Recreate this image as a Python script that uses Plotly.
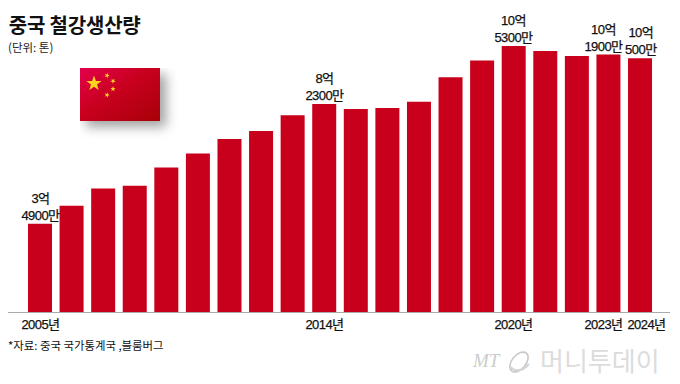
import plotly.graph_objects as go
import base64
import math

years = list(range(2005, 2025))
# steel output, 100 million tonnes
values = [3.49, 4.21, 4.89, 5.00, 5.72, 6.27, 6.85, 7.17, 7.79, 8.23,
          8.04, 8.08, 8.32, 9.29, 9.96, 10.53, 10.33, 10.13, 10.19, 10.05]
label_years = [2005, 2014, 2020, 2023, 2024]
label_top = ["3억", "8억", "10억", "10억", "10억"]
label_bottom = ["4900만", "2300만", "5300만", "1900만", "500만"]
label_shift = [0, 0, 0, -5, 1]
tick_years = [2005, 2014, 2020, 2023, 2024]
tick_text = ["2005년", "2014년", "2020년", "2023년", "2024년"]
tick_shift = [0, 0, 0, -5, 6]

RED = "#c9001c"
KR = "Noto Sans CJK KR, Noto Sans, sans-serif"
NARROW = "Liberation Sans, Noto Sans CJK KR, sans-serif"


def star(cx, cy, r, rot=0):
    pts = []
    for i in range(10):
        rr = r if i % 2 == 0 else r * 0.4
        a = math.radians(-90 + rot + i * 36)
        pts.append(f"{cx + rr * math.cos(a):.2f},{cy + rr * math.sin(a):.2f}")
    return f'<polygon points="{" ".join(pts)}" fill="#ffd21e"/>'


svg = f'''<svg xmlns="http://www.w3.org/2000/svg" width="120" height="90" viewBox="0 0 120 90">
<defs>
<linearGradient id="g" x1="0" y1="0" x2="1" y2="1">
<stop offset="0" stop-color="#e4004c"/><stop offset="0.45" stop-color="#c8001e"/><stop offset="1" stop-color="#a80008"/>
</linearGradient>
<filter id="b" x="-40%" y="-40%" width="180%" height="180%"><feGaussianBlur stdDeviation="6"/></filter>
</defs>
<rect x="6" y="6" width="80" height="53" fill="#555" opacity="0.55" filter="url(#b)"/>
<rect x="0" y="0" width="80" height="53" fill="url(#g)"/>
{star(14, 15.5, 8)}{star(27, 7.5, 2.8, 20)}{star(33, 13, 2.8, 40)}{star(33, 21, 2.8, 0)}{star(27, 27, 2.8, 20)}
</svg>'''
flag_uri = "data:image/svg+xml;base64," + base64.b64encode(svg.encode()).decode()

logo = '''<svg xmlns="http://www.w3.org/2000/svg" width="26" height="26" viewBox="0 0 26 26">
<ellipse cx="13" cy="13" rx="11.5" ry="7" transform="rotate(-50 13 13)" fill="none" stroke="#c8c8c8" stroke-width="1.6"/>
<path d="M4 18 Q13 26 23 15" fill="none" stroke="#d4d4d4" stroke-width="2.2"/>
</svg>'''
logo_uri = "data:image/svg+xml;base64," + base64.b64encode(logo.encode()).decode()

fig = go.Figure(go.Bar(x=years, y=values, width=0.76, marker=dict(color=RED, line=dict(width=0)),
                       hoverinfo="skip"))

for yr, top, bottom, sh in zip(label_years, label_top, label_bottom, label_shift):
    v = values[years.index(yr)]
    fig.add_annotation(x=yr, y=v, xref="x", yref="y", yanchor="bottom", xanchor="center",
                       text=f"{top}<br>{bottom}", showarrow=False, xshift=sh, yshift=-1,
                       font=dict(family=NARROW, size=13, color="#111"), align="center")

for yr, t, sh in zip(tick_years, tick_text, tick_shift):
    fig.add_annotation(x=yr, y=0, xref="x", yref="y", yanchor="top", xanchor="center", text=t,
                       showarrow=False, xshift=sh, yshift=-3,
                       font=dict(family=NARROW, size=13, color="#111"))

paper_text = [
    ("중국 철강생산량", 6, 24, 20, "#111", KR, True),
    ("(단위: 톤)", 6, 47, 11.5, "#222", KR, False),
    ("*자료: 중국 국가통계국 ,블룸버그", 6, 345, 11.4, "#111", KR, False),
    ("MT", 470, 360, 19, "#cccccc", "Liberation Serif", False),
    ("머니투데이", 538, 359, 26, "#dcdcdc", KR, False),
]
for t, px, py, size, col, fam, bold in paper_text:
    fig.add_annotation(x=px / 680, y=1 - py / 384, xref="paper", yref="paper", xanchor="left",
                       yanchor="middle", showarrow=False,
                       text=f"<b>{t}</b>" if bold else (f"<i>{t}</i>" if t == "MT" else t),
                       font=dict(family=fam, size=size, color=col,
                                 weight=900 if bold else 400))

fig.add_layout_image(dict(source=flag_uri, xref="paper", yref="paper", x=80 / 680, y=1 - 68 / 384,
                          sizex=120 / 680, sizey=90 / 384, xanchor="left", yanchor="top",
                          sizing="stretch", layer="above"))
fig.add_layout_image(dict(source=logo_uri, xref="paper", yref="paper", x=506 / 680, y=1 - 349 / 384,
                          sizex=26 / 680, sizey=26 / 384, xanchor="left", yanchor="top",
                          sizing="stretch", layer="above"))

fig.update_layout(
    width=680, height=384, autosize=False,
    margin=dict(l=0, r=0, t=0, b=0),
    paper_bgcolor="white", plot_bgcolor="white", showlegend=False,
    xaxis=dict(domain=[8 / 680, 670 / 680], range=[2005 - 32 / 31.58, 2005 + 630 / 31.58],
               showgrid=False, showticklabels=False, ticks="", zeroline=False,
               showline=False, fixedrange=True),
    yaxis=dict(domain=[1 - 312 / 384, 1], range=[0, 312 / 25.26], showgrid=False,
               showticklabels=False, ticks="", zeroline=True, zerolinecolor="#aaaaaa",
               zerolinewidth=1, showline=False, fixedrange=True),
)
post = """document.body.style.margin='0';
document.querySelectorAll('.annotation-text').forEach(function(t){
  var s=t.textContent;
  if(/[만억년]/.test(s)){t.style.letterSpacing='-0.55px';t.style.stroke='#111';t.style.strokeWidth='0.25px';}
  if(s.indexOf('철강')>=0){t.style.letterSpacing='-0.2px';}
});"""
fig.write_html("out.html", config=dict(displayModeBar=False), post_script=post)
